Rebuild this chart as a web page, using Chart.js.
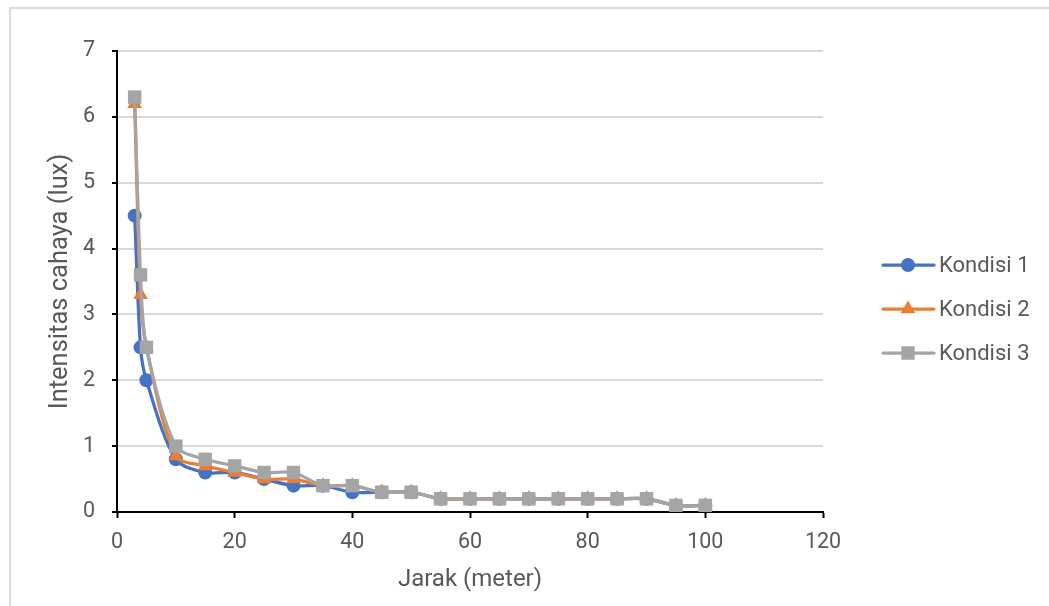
<!DOCTYPE html>
<html>
<head>
<meta charset="utf-8">
<script src="https://cdn.jsdelivr.net/npm/chart.js@4/dist/chart.umd.min.js"></script>
<style>
  html, body { margin: 0; padding: 0; background: #ffffff; }
  #wrap { width: 1049px; height: 606px; position: relative; }
</style>
</head>
<body>
<div id="wrap"><canvas id="c" width="1049" height="606"></canvas></div>
<script>
// Distance from the light source (m)
const jarak = [3, 4, 5, 10, 15, 20, 25, 30, 35, 40, 45, 50, 55, 60, 65, 70, 75, 80, 85, 90, 95, 100];

// Measured light intensity (lux) for each condition
const kondisi1 = [4.5, 2.5, 2.0, 0.8, 0.6, 0.6, 0.5, 0.4, 0.4, 0.3, 0.3, 0.3, 0.2, 0.2, 0.2, 0.2, 0.2, 0.2, 0.2, 0.2, 0.1, 0.1];
const kondisi2 = [6.2, 3.3, 2.5, 0.85, 0.7, 0.6, 0.5, 0.5, 0.4, 0.4, 0.3, 0.3, 0.2, 0.2, 0.2, 0.2, 0.2, 0.2, 0.2, 0.2, 0.1, 0.1];
const kondisi3 = [6.3, 3.6, 2.5, 1.0, 0.8, 0.7, 0.6, 0.6, 0.4, 0.4, 0.3, 0.3, 0.2, 0.2, 0.2, 0.2, 0.2, 0.2, 0.2, 0.2, 0.1, 0.1];

const seriesNames = ['Kondisi 1', 'Kondisi 2', 'Kondisi 3'];
const xTitle = 'Jarak (meter)';
const yTitle = 'Intensitas cahaya (lux)';

const FONT = 'Roboto, "Liberation Sans", sans-serif';
const TEXT = '#595959';

function toPoints(ys) { return jarak.map((x, i) => ({ x: x, y: ys[i] })); }

const styles = [
  { color: '#4472C4', pointStyle: 'circle', radius: 7 },
  { color: '#ED7D31', pointStyle: 'triangle', radius: 8.5 },
  { color: '#A5A5A5', pointStyle: 'rect', radius: 9.5 }
];
const values = [kondisi1, kondisi2, kondisi3];

const datasets = values.map((ys, i) => ({
  label: seriesNames[i],
  data: toPoints(ys),
  borderColor: styles[i].color,
  backgroundColor: styles[i].color,
  pointBackgroundColor: styles[i].color,
  pointBorderColor: styles[i].color,
  pointBorderWidth: 0,
  pointStyle: styles[i].pointStyle,
  pointRadius: styles[i].radius,
  borderWidth: 3.25,
  tension: 0.3,
  showLine: true,
  order: 3 - i
}));

// Light grey frame around the chart
const framePlugin = {
  id: 'frame',
  beforeDraw(chart) {
    const ctx = chart.ctx;
    ctx.save();
    ctx.strokeStyle = '#d9d9d9';
    ctx.lineWidth = 2;
    ctx.strokeRect(10, 8, 1200, 800);
    ctx.restore();
  }
};

// Legend on the right: line segment with its marker, then the series name
const legendPlugin = {
  id: 'sideLegend',
  afterDraw(chart) {
    const ctx = chart.ctx;
    const rows = [265, 309, 353];
    ctx.save();
    chart.data.datasets.forEach((ds, i) => {
      const y = rows[i];
      ctx.strokeStyle = ds.borderColor;
      ctx.lineWidth = 3.25;
      ctx.lineCap = 'round';
      ctx.beginPath();
      ctx.moveTo(883, y);
      ctx.lineTo(934, y);
      ctx.stroke();
      ctx.fillStyle = ds.backgroundColor;
      ctx.strokeStyle = ds.borderColor;
      Chart.helpers.drawPoint(ctx, {
        pointStyle: ds.pointStyle,
        radius: ds.pointRadius,
        rotation: 0,
        borderWidth: 0
      }, 908, y);
      ctx.fillStyle = TEXT;
      ctx.font = '22px ' + FONT;
      ctx.textAlign = 'left';
      ctx.textBaseline = 'middle';
      ctx.fillText(ds.label, 939, y + 1);
    });
    ctx.restore();
  }
};

new Chart(document.getElementById('c'), {
  type: 'scatter',
  data: { datasets: datasets },
  options: {
    responsive: false,
    animation: false,
    devicePixelRatio: 1,
    layout: { padding: { top: 51, right: 226, bottom: 0, left: 0 } },
    plugins: {
      legend: { display: false },
      tooltip: { enabled: false }
    },
    scales: {
      x: {
        type: 'linear',
        min: 0,
        max: 120,
        afterFit(scale) { scale.height = 94; },
        ticks: {
          stepSize: 20,
          color: TEXT,
          padding: 12,
          font: { family: FONT, size: 21.5 }
        },
        grid: {
          drawOnChartArea: false,
          drawTicks: true,
          tickLength: 6,
          tickColor: '#000000',
          tickWidth: 2
        },
        border: { color: '#000000', width: 2 },
        title: {
          display: true,
          text: xTitle,
          color: TEXT,
          font: { family: FONT, size: 24 },
          padding: { top: 0, bottom: 12 }
        }
      },
      y: {
        type: 'linear',
        min: 0,
        max: 7,
        afterFit(scale) { scale.width = 117; },
        ticks: {
          stepSize: 1,
          color: TEXT,
          padding: 17,
          font: { family: FONT, size: 21.5 }
        },
        grid: {
          color: '#d9d9d9',
          lineWidth: 2,
          drawTicks: true,
          tickLength: 5,
          tickColor: '#000000',
          tickWidth: 2
        },
        border: { color: '#000000', width: 2 },
        title: {
          display: true,
          text: yTitle,
          color: TEXT,
          font: { family: FONT, size: 25.5 },
          padding: { top: 45, bottom: 0 }
        }
      }
    }
  },
  plugins: [framePlugin, legendPlugin]
});
</script>
</body>
</html>
